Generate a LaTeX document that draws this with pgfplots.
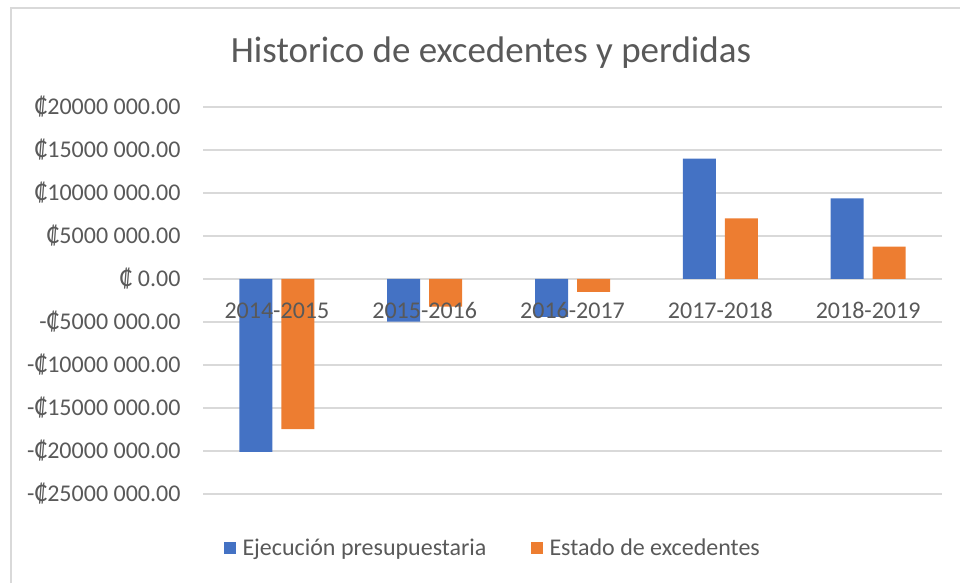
\documentclass[border=0pt]{standalone}
\usepackage{pgfplots}
\pgfplotsset{compat=1.18}
\usepackage{fontspec}
\setmainfont{Carlito}
\definecolor{cblue}{HTML}{4472C4}
\definecolor{corange}{HTML}{ED7D31}
\definecolor{ctext}{HTML}{595959}
\definecolor{cgrid}{HTML}{D9D9D9}
\pgfplotsset{
  common/.style={
    at={(203pt,89pt)}, anchor=south west,
    width=739pt, height=387pt, scale only axis,
    xmin=-0.5, xmax=4.5, ymin=-25000000, ymax=20000000,
    scaled y ticks=false,
    axis x line*=middle, axis y line*=left,
    axis line style={draw=none},
    major tick length=0pt,
    tick label style={text=ctext, font=\fontsize{24}{28}\selectfont},
  }
}
\begin{document}
\begin{tikzpicture}[x=1pt,y=1pt]
\useasboundingbox (0,0) rectangle (960,583);
\draw[cgrid, line width=2pt] (11,0) -- (11,575) -- (961,575);
\node[text=ctext, font=\fontsize{37}{43}\selectfont] at (491,530) {Historico de excedentes y perdidas};
\begin{axis}[
  common,
  ybar=9pt, bar width=33pt,
  xtick={0,1,2,3,4}, xticklabels={},
  ytick={-25000000,-20000000,-15000000,-10000000,-5000000,0,5000000,10000000,15000000,20000000},
  yticklabels={-₡25000 000.00,-₡20000 000.00,-₡15000 000.00,-₡10000 000.00,-₡5000 000.00,₡ 0.00,₡5000 000.00,₡10000 000.00,₡15000 000.00,₡20000 000.00},
  ymajorgrids, grid style={draw=cgrid, line width=1.5pt},
  yticklabel style={xshift=-19pt},
  legend style={at={(0.392,-0.14)}, anchor=center, draw=none, fill=none,
    legend columns=2, font=\fontsize{24}{28}\selectfont, text=ctext,
    /tikz/every even column/.append style={column sep=42pt}},
  legend image code/.code={\fill (0pt,-6pt) rectangle (12pt,6pt); \path (17pt,0pt);},
]
\addplot[fill=cblue, draw=none] coordinates {(0,-20100000) (1,-4950000) (2,-4400000) (3,14000000) (4,9380000)};
\addplot[fill=corange, draw=none] coordinates {(0,-17450000) (1,-3200000) (2,-1500000) (3,7050000) (4,3760000)};
\legend{Ejecución presupuestaria, Estado de excedentes}
\end{axis}
\begin{axis}[
  common,
  xtick={0,1,2,3,4},
  xticklabels={2014-2015,2015-2016,2016-2017,2017-2018,2018-2019},
  ytick=\empty,
  xticklabel style={yshift=-20pt},
]
\end{axis}
\end{tikzpicture}
\end{document}
